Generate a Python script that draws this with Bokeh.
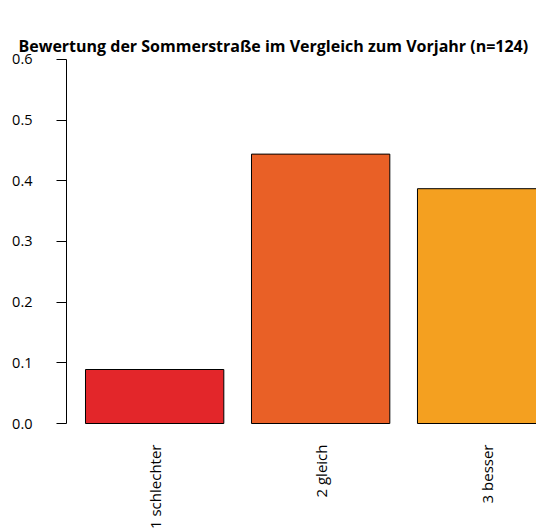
from bokeh.plotting import figure
from bokeh.models import Range1d, FixedTicker, PrintfTickFormatter, ColumnDataSource, LinearAxis, Title
from bokeh.core.properties import value
from bokeh.embed import file_html
from bokeh.resources import INLINE
import math

title_text = "Bewertung der Sommerstraße im Vergleich zum Vorjahr (n=124)"
categories = ["1 schlechter", "2 gleich", "3 besser"]
shares = [0.089, 0.444, 0.387]
colors = ["#E3262A", "#E96026", "#F4A020"]
y_ticks = [0.0, 0.1, 0.2, 0.3, 0.4, 0.5, 0.6]

bar_width = 1.0
space = 0.2
centers = [space + bar_width / 2 + i * (bar_width + space) for i in range(len(categories))]

src = ColumnDataSource(dict(x=centers, top=shares, base=[0.0] * len(categories),
                            color=colors, cat=categories))

p = figure(width=536, height=529, output_backend="svg", toolbar_location=None,
           x_range=Range1d(0.0627, 3.4604), y_range=Range1d(-0.1747, 0.6016),
           min_border_left=66, min_border_right=0, min_border_top=58, min_border_bottom=0)

p.vbar(x="x", top="top", bottom="base", width=bar_width, fill_color="color",
       line_color="black", line_width=1, source=src)

# category labels, vertical, reading upward, hanging below the bars
p.text(x="x", y="base", text="cat", source=src, angle=math.pi / 2,
       text_align="right", text_baseline="middle", y_offset=21,
       text_font=value("Open Sans"), text_font_size="15px", text_color="#000000")

# invisible spacer axis between the frame and the title (pushes the title up)
spacer = LinearAxis(ticker=FixedTicker(ticks=centers), axis_line_color=None,
                    major_tick_out=28, major_tick_in=0, minor_tick_out=0, minor_tick_in=0,
                    major_tick_line_color=None, minor_tick_line_color=None,
                    major_label_standoff=0, major_label_text_font_size="1px",
                    major_label_overrides={c: "" for c in centers})
p.add_layout(spacer, "above")

p.title.text = ""
main_title = Title(text=title_text, text_font="Open Sans", text_font_size="16px",
                   text_font_style="bold", align="left", vertical_align="top",
                   offset=-48, standoff=0, text_color="#000000")
p.add_layout(main_title, "above")

p.xgrid.visible = False
p.ygrid.visible = False
p.outline_line_color = None
p.background_fill_color = "white"
p.border_fill_color = "white"

ya = p.yaxis[0]
ya.ticker = FixedTicker(ticks=y_ticks)
ya.bounds = (min(y_ticks), max(y_ticks))
ya.formatter = PrintfTickFormatter(format="%.1f")
ya.major_tick_out = 10
ya.major_tick_in = 0
ya.minor_tick_out = 0
ya.minor_tick_in = 0
ya.major_label_standoff = 24
ya.major_label_text_font = "Open Sans"
ya.major_label_text_font_size = "14.5px"
ya.major_label_text_color = "#000000"
ya.axis_line_color = "black"
ya.major_tick_line_color = "black"

p.xaxis.visible = False

open("out.html", "w").write(file_html(p, INLINE))
